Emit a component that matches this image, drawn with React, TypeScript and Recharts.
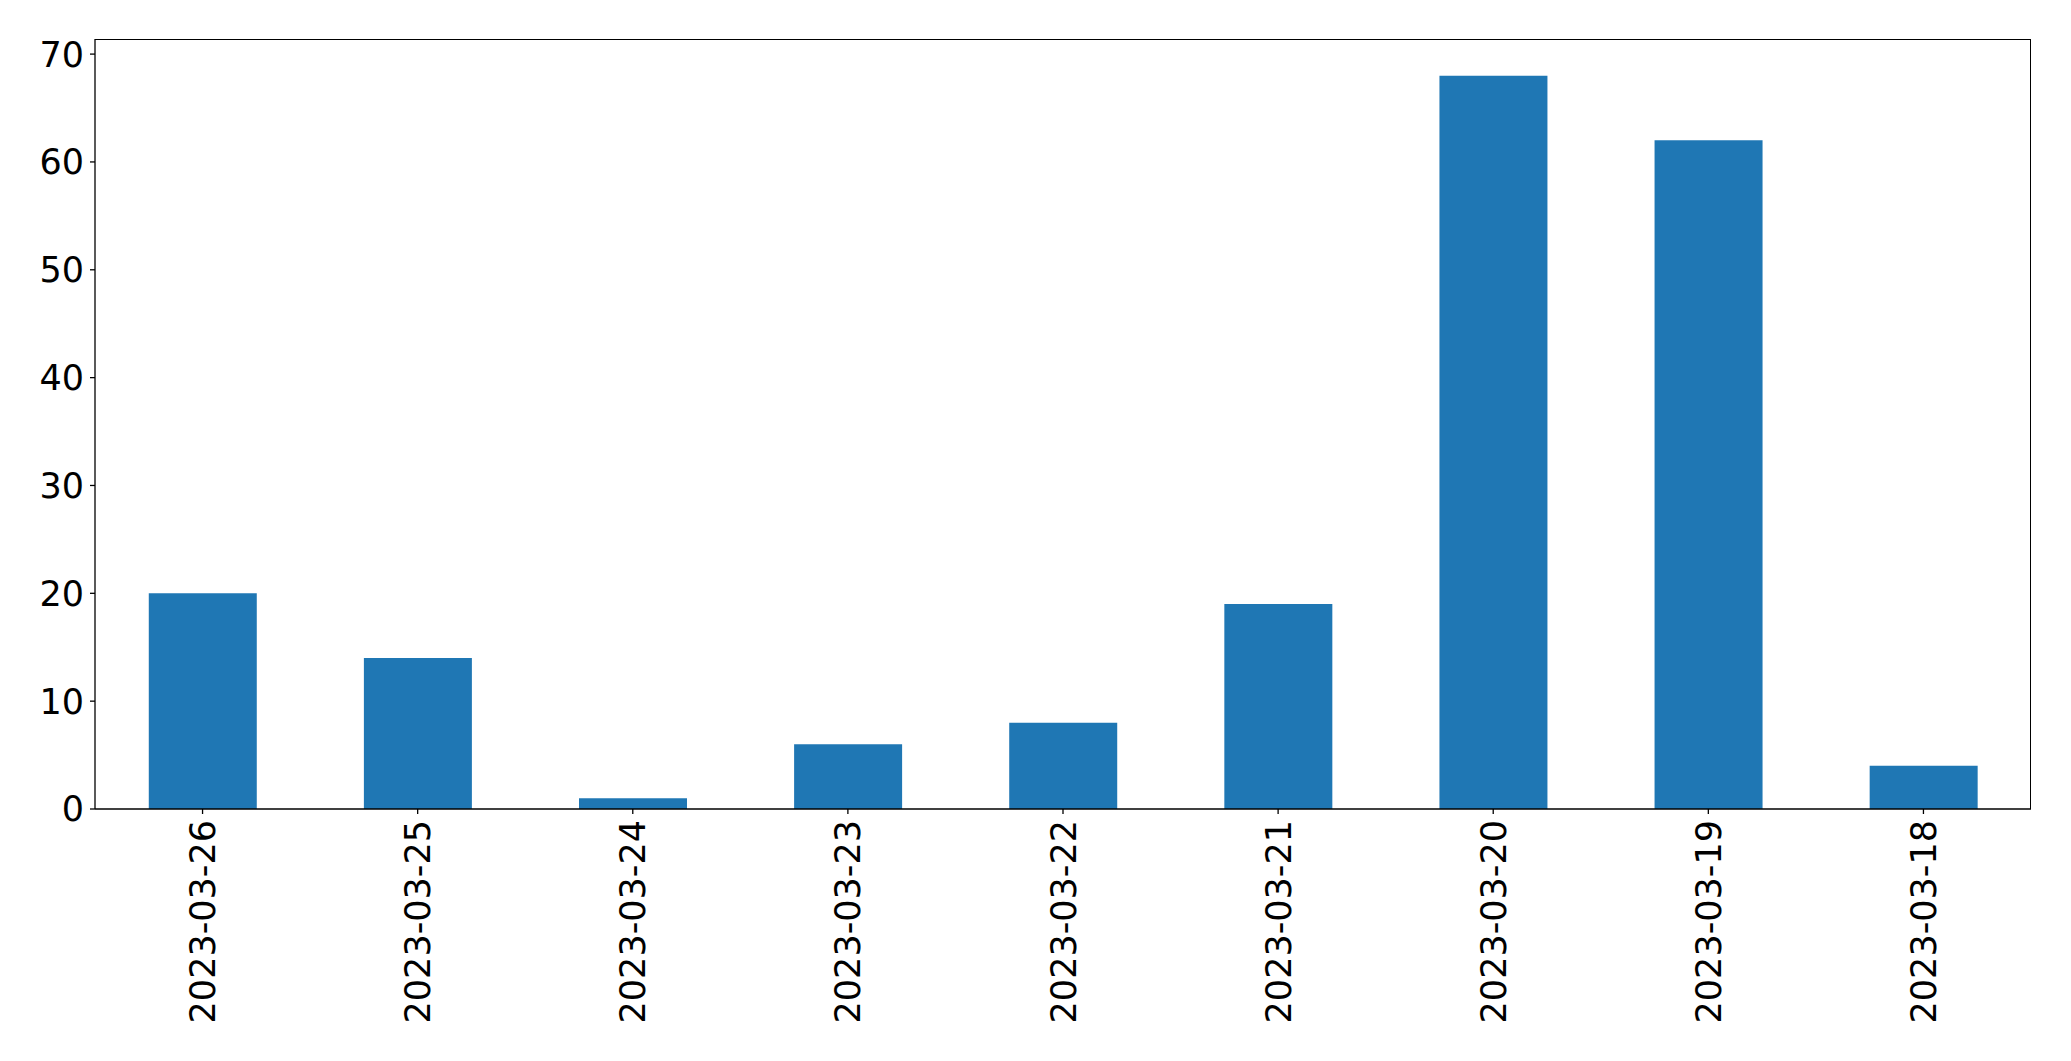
import { BarChart, Bar, XAxis, YAxis } from "recharts";

const dates = [
  "2023-03-26",
  "2023-03-25",
  "2023-03-24",
  "2023-03-23",
  "2023-03-22",
  "2023-03-21",
  "2023-03-20",
  "2023-03-19",
  "2023-03-18",
];
const counts = [20, 14, 1, 6, 8, 19, 68, 62, 4];
const yTicks = [0, 10, 20, 30, 40, 50, 60, 70];

const data = dates.map((d, i) => ({ date: d, count: counts[i] }));

const FONT = "'DejaVu Sans', sans-serif";
const W = 2071;
const H = 1061;
const M = { top: 39, right: 40, left: 95, bottom: 252 };

function DateTick(props: any) {
  const { x, y, payload } = props;
  const ty = y + 4;
  return (
    <text
      x={x}
      y={ty}
      transform={`rotate(-90, ${x}, ${ty})`}
      textAnchor="end"
      dy="0.36em"
      fill="#000"
      fontSize={35}
      fontFamily={FONT}
    >
      {payload.value}
    </text>
  );
}

export default function App() {
  return (
    <div style={{ position: "absolute", left: 0, top: 0, width: W, height: H, background: "#fff" }}>
      <BarChart
        width={W}
        height={H}
        data={data}
        margin={{ top: M.top, right: M.right, left: 0, bottom: 0 }}
        barCategoryGap="25%"
      >
        <XAxis
          dataKey="date"
          height={M.bottom}
          interval={0}
          tickSize={5}
          tickMargin={2}
          axisLine={{ stroke: "#000", strokeWidth: 1.3 }}
          tickLine={{ stroke: "#000", strokeWidth: 1.3 }}
          tick={<DateTick />}
        />
        <YAxis
          width={M.left}
          domain={[0, 71.4]}
          ticks={yTicks}
          tickSize={5}
          tickMargin={6}
          axisLine={{ stroke: "#000", strokeWidth: 1.3 }}
          tickLine={{ stroke: "#000", strokeWidth: 1.3 }}
          tick={{ fill: "#000", fontSize: 35, fontFamily: FONT }}
        />
        <Bar dataKey="count" fill="#1f77b4" isAnimationActive={false} />
      </BarChart>
      {/* frame around the plot area */}
      <div
        style={{
          position: "absolute",
          left: M.left,
          top: M.top,
          width: W - M.left - M.right,
          height: H - M.top - M.bottom,
          boxSizing: "border-box",
          borderTop: "1.3px solid #000",
          borderRight: "1.3px solid #000",
          pointerEvents: "none",
        }}
      />
    </div>
  );
}
